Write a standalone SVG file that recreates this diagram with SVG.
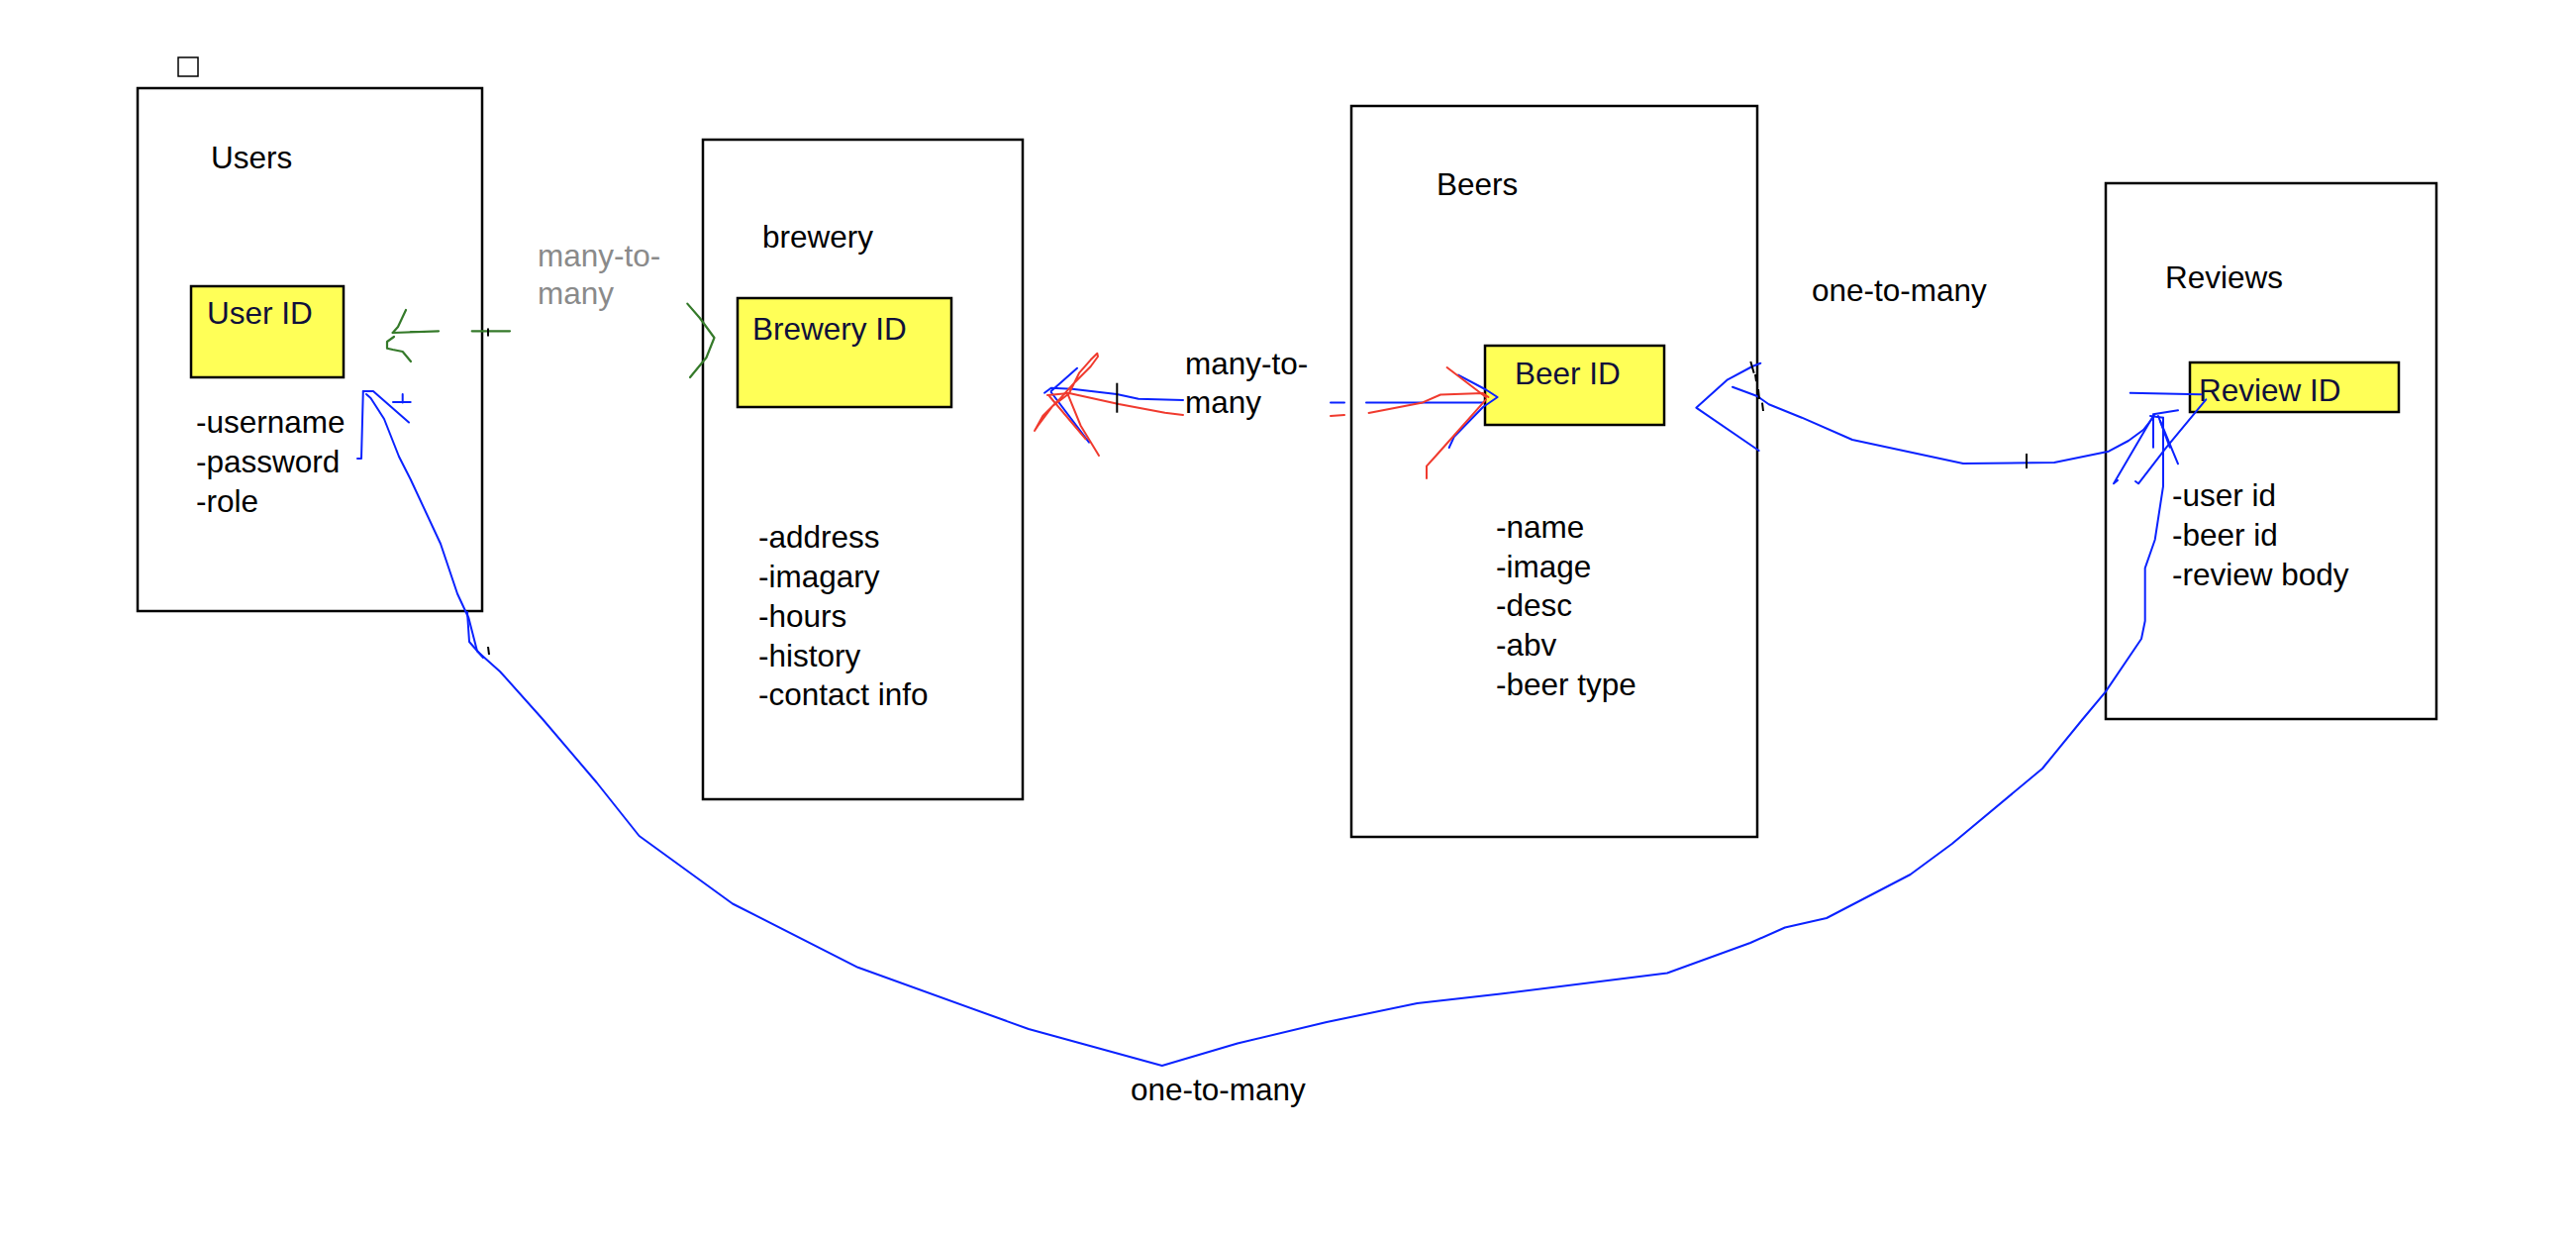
<svg xmlns="http://www.w3.org/2000/svg" width="2602" height="1250" viewBox="0 0 2602 1250">
<style>
  .box { fill: #ffffff; stroke: #000000; stroke-width: 2.5; }
  .key { fill: #ffff57; stroke: #000000; stroke-width: 2.5; }
  .t { font-family: "Liberation Sans", Arial, sans-serif; font-size: 31.5px; fill: #000000; }
  .k { font-family: "Liberation Sans", Arial, sans-serif; font-size: 31.5px; fill: #10103a; }
  .gray { fill: #8a8a8a; }
  .b { fill: none; stroke: #0a22ff; stroke-width: 2; stroke-linejoin: round; stroke-linecap: round; }
  .r { fill: none; stroke: #f03a2e; stroke-width: 2; stroke-linejoin: round; stroke-linecap: round; }
  .g { fill: none; stroke: #357a2a; stroke-width: 2.2; stroke-linejoin: round; stroke-linecap: round; }
  .tick { fill: none; stroke: #000000; stroke-width: 2; }
</style>
<rect width="2602" height="1250" fill="#ffffff"/>

<rect x="180" y="58" width="20" height="19" fill="#ffffff" stroke="#000000" stroke-width="1.5"/>

<g id="users">
  <rect class="box" x="139" y="89" width="348" height="528"/>
  <text class="t" x="213" y="170">Users</text>
  <rect class="key" x="193" y="289" width="154" height="92"/>
  <text class="k" x="209" y="327">User ID</text>
  <text class="t" x="198" y="437">-username</text>
  <text class="t" x="198" y="477">-password</text>
  <text class="t" x="198" y="517">-role</text>
</g>

<g id="brewery">
  <rect class="box" x="710" y="141" width="323" height="666"/>
  <text class="t" x="770" y="250">brewery</text>
  <rect class="key" x="745" y="301" width="216" height="110"/>
  <text class="k" x="760" y="343">Brewery ID</text>
  <text class="t" x="766" y="553">-address</text>
  <text class="t" x="766" y="593">-imagary</text>
  <text class="t" x="766" y="633">-hours</text>
  <text class="t" x="766" y="673">-history</text>
  <text class="t" x="766" y="712">-contact info</text>
</g>

<g id="beers">
  <rect class="box" x="1365" y="107" width="410" height="738"/>
  <text class="t" x="1451" y="197">Beers</text>
  <rect class="key" x="1500" y="349" width="181" height="80"/>
  <text class="k" x="1530" y="388">Beer ID</text>
  <text class="t" x="1511" y="543">-name</text>
  <text class="t" x="1511" y="583">-image</text>
  <text class="t" x="1511" y="622">-desc</text>
  <text class="t" x="1511" y="662">-abv</text>
  <text class="t" x="1511" y="702">-beer type</text>
</g>

<g id="reviews">
  <rect class="box" x="2127" y="185" width="334" height="541"/>
  <text class="t" x="2187" y="291">Reviews</text>
  <rect class="key" x="2212" y="366" width="211" height="50"/>
  <text class="k" x="2221" y="405">Review ID</text>
  <text class="t" x="2194" y="511">-user id</text>
  <text class="t" x="2194" y="551">-beer id</text>
  <text class="t" x="2194" y="591">-review body</text>
</g>

<g id="connectors">
  <!-- Users <-> Brewery (green) -->
  <path class="g" d="M396.7,336 L443,334.3"/>
  <path class="g" d="M415,335 L428,335" stroke-width="4"/>
  <path class="g" d="M396.7,336 L402,330 L410,313"/>
  <path class="g" d="M398,340 L391,345 L391,351.7 L396.7,353 L406.7,355 L415,365"/>
  <path class="g" d="M476.7,334.3 L515,334.3"/>
  <path class="tick" d="M493,331.5 L493,339.5"/>
  <path class="g" d="M694.3,306.6 L706.8,321 L721.5,341 L713.5,361 L697,381"/>

  <!-- Brewery <-> Beers (blue + red) -->
  <path class="b" d="M1055,396.7 L1061.7,391.7 L1083,392.7 L1128,398 L1150,402.7 L1195,404"/>
  <path class="b" d="M1061.7,395 L1088,371.7"/>
  <path class="b" d="M1061.7,396 L1100,446.7"/>
  <path class="r" d="M1058,399 L1080,397 L1130,408 L1176.7,416.7 L1195,419"/>
  <path class="r" d="M1080,397 L1090,376.7 L1101.7,363.3 L1108.3,356.7 L1109,360 L1101.7,370 L1085,386.7 L1070,403.3 L1053.3,420 L1045,435 L1048.3,430 L1063.3,410 L1080,397.3"/>
  <path class="r" d="M1078,396.7 L1091.7,430 L1110,460"/>
  <path class="r" d="M1060,400 L1096.7,443.3"/>
  <path class="tick" d="M1128.3,386.7 L1128.3,416.7"/>
  <path class="b" d="M1344,406.5 L1358,406.5"/>
  <path class="r" d="M1344,420 L1358,419"/>
  <path class="b" d="M1380,406.4 L1498,406.4"/>
  <path class="b" d="M1473,378.6 L1501,393.5 L1512.6,401 L1498,411 L1469,440.7 L1463.7,452"/>
  <path class="r" d="M1382.5,416.9 L1437,406.4 L1455,398.5 L1498,397 L1503.5,401"/>
  <path class="r" d="M1461.6,371 L1501,401"/>
  <path class="r" d="M1501,403.4 L1452.4,458 L1441,470.6 L1441,483"/>
  <text class="t" x="1197" y="378">many-to-</text>
  <text class="t" x="1197" y="417">many</text>

  <!-- Beers <-> Reviews (blue) -->
  <path class="b" d="M1778.3,366.7 L1770,370 L1745,383.3 L1713.3,411.7 L1776.7,455"/>
  <path class="b" d="M1750,390.7 L1775,400 L1786.7,408.3 L1820,421.7 L1871,444 L1983,468 L2075,467 L2130,455.7 L2150,445 L2165,434 L2176,420"/>
  <path class="tick" d="M1768.3,365 L1771.7,376.7 M1773,378 L1774,385 M1776,393 L1777,403 M1780,406.7 L1781,415"/>
  <path class="tick" d="M2047,458 L2047,473"/>
  <text class="t" x="1830" y="304">one-to-many</text>

  <!-- Arrow cluster into Review ID -->
  <path class="b" d="M2151.7,396.7 L2175,397.3 L2223.3,398.3"/>
  <path class="b" d="M2228.3,403.3 L2188.3,451.7 L2160,488.3 L2157,486"/>
  <path class="b" d="M2175,418.3 L2200,414.3"/>
  <path class="b" d="M2175,420 L2135,488.3 L2139,485"/>
  <path class="b" d="M2175,420 L2175,451.7"/>
  <path class="b" d="M2180,420 L2191.7,451.7"/>
  <path class="b" d="M2182,425 L2200,468.3"/>
  <path class="b" d="M2172,420 L2185,421.7"/>

  <!-- Users <-> Reviews long curve (blue) -->
  <path class="b" d="M366.8,395 L377,395 L413,426.5"/>
  <path class="b" d="M366.8,395 L365,463 L361,463"/>
  <path class="b" d="M397,406 L414.7,406 M406.7,398 L406.7,406.5"/>
  <path class="b" d="M370,398 L374.5,402 L388,423 L403,461 L414.7,484 L445,549 L462,599.5 L473.4,624 L482,657.5 L505,678 L548,726 L602.6,790 L645.6,844 L740,912.5 L866.6,976.8 L1039,1039 L1173.8,1076 L1250,1053.5 L1340,1032 L1431.5,1013 L1515.7,1003.5 L1656,986 L1684,982.5 L1768,952 L1803,936.5 L1845,927 L1929.6,883 L1971.7,852 L2063,776 L2103,727 L2126.7,698.6 L2163,645 L2166.7,627 L2166.7,573.6 L2176.7,545 L2185,491 L2185,421.7"/>
  <path class="b" d="M472,618 L474,648 L481,656 L488,664" stroke-width="1.5"/>
  <path class="tick" d="M493,653 L494,661" stroke-width="1.5"/>
  <text class="t gray" x="543" y="269">many-to-</text>
  <text class="t gray" x="543" y="307">many</text>
  <text class="t" x="1142" y="1111">one-to-many</text>
</g>
</svg>
